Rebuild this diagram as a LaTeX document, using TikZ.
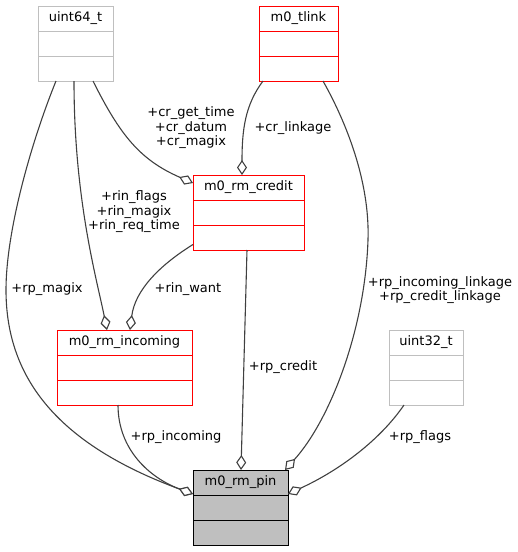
\documentclass[tikz,border=0pt]{standalone}
\usepackage{fontspec}
\setmainfont{DejaVu Sans}
\usetikzlibrary{positioning,arrows.meta}
\definecolor{edgegray}{HTML}{404040}
\begin{document}
\begin{tikzpicture}[x=1pt, y=-1pt,
    font=\fontsize{13}{14.5}\selectfont,
    cls/.style={draw, line width=1pt, minimum height=25pt, inner sep=0pt, outer sep=0pt, fill=white},
    redcls/.style={cls, draw=red},
    greycls/.style={cls, draw=gray!50},
    pincls/.style={cls, draw=black, fill=gray!50},
    member/.style={draw=edgegray, line width=1.1pt, -{Diamond[fill=white, length=15pt, width=10pt]}},
    lbl/.style={align=center, inner sep=0pt}]
  \useasboundingbox (0,0) rectangle (518,552);
  % classes
  \node[greycls, minimum width=75pt] (u64) at (75.5,18.5) {uint64\_t};
  \node[greycls, minimum width=75pt, below=0pt of u64] (u64a) {};
  \node[greycls, minimum width=75pt, below=0pt of u64a] (u64b) {};
  \node[redcls, minimum width=79pt] (tl) at (298.5,18.5) {m0\_tlink};
  \node[redcls, minimum width=79pt, below=0pt of tl] (tla) {};
  \node[redcls, minimum width=79pt, below=0pt of tla] (tlb) {};
  \node[redcls, minimum width=111pt] (cr) at (248.5,187.5) {m0\_rm\_credit};
  \node[redcls, minimum width=111pt, below=0pt of cr] (cra) {};
  \node[redcls, minimum width=111pt, below=0pt of cra] (crb) {};
  \node[redcls, minimum width=135pt] (inc) at (124.5,342.5) {m0\_rm\_incoming};
  \node[redcls, minimum width=135pt, below=0pt of inc] (inca) {};
  \node[redcls, minimum width=135pt, below=0pt of inca] (incb) {};
  \node[greycls, minimum width=74pt] (u32) at (426,342.5) {uint32\_t};
  \node[greycls, minimum width=74pt, below=0pt of u32] (u32a) {};
  \node[greycls, minimum width=74pt, below=0pt of u32a] (u32b) {};
  \node[pincls, minimum width=95pt] (pin) at (240.5,482.5) {m0\_rm\_pin};
  \node[pincls, minimum width=95pt, below=0pt of pin] (pina) {};
  \node[pincls, minimum width=95pt, below=0pt of pina] (pinb) {};
  % members
  \draw[member] ([xshift=18pt]u64b.south west) .. controls (32,140) and (6,230) .. (6,290)
    .. controls (6,380) and (60,445) .. ([yshift=1pt]pin.south west);
  \draw[member] ([xshift=36pt]u64b.south west) .. controls (74,200) and (97,280) .. ([xshift=50pt]inc.north west);
  \draw[member] ([xshift=55pt]u64b.south west) .. controls (120,135) and (140,160) .. ([yshift=4.5pt]cr.west);
  \draw[member] ([xshift=4pt]tlb.south west) .. controls (245,105) and (242,130) .. ([xshift=-6.5pt]cr.north);
  \draw[member] ([xshift=64pt]tlb.south west) .. controls (345,120) and (370,180) .. (368,240)
    .. controls (365,330) and (330,420) .. ([xshift=-3pt]pin.north east);
  \draw[member] ([yshift=-7pt]crb.west) .. controls (160,265) and (135,290) .. ([xshift=73pt]inc.north west);
  \draw[member] ([xshift=-1.5pt]crb.south) -- ([xshift=0.5pt]pin.north);
  \draw[member] ([xshift=61pt]incb.south west) .. controls (118,450) and (150,478) .. ([yshift=1pt]pin.south west);
  \draw[member] ([xshift=15pt]u32b.south west) .. controls (380,440) and (340,470) .. ([yshift=1pt]pin.south east);
  % labels
  \node[lbl] (l-magix) at (47,289) {+rp\_magix};
  \node[lbl] (l-rin) at (134,212) {+rin\_flags\\+rin\_magix\\+rin\_req\_time};
  \node[lbl] (l-cr) at (191,128) {+cr\_get\_time\\+cr\_datum\\+cr\_magix};
  \node[lbl] (l-link) at (293,128) {+cr\_linkage};
  \node[lbl] (l-want) at (188,289) {+rin\_want};
  \node[lbl] (l-pinlink) at (440,290) {+rp\_incoming\_linkage\\+rp\_credit\_linkage};
  \node[lbl] (l-credit) at (283,367) {+rp\_credit};
  \node[lbl] (l-inc) at (176,437) {+rp\_incoming};
  \node[lbl] (l-flags) at (420,437) {+rp\_flags};
\end{tikzpicture}
\end{document}
